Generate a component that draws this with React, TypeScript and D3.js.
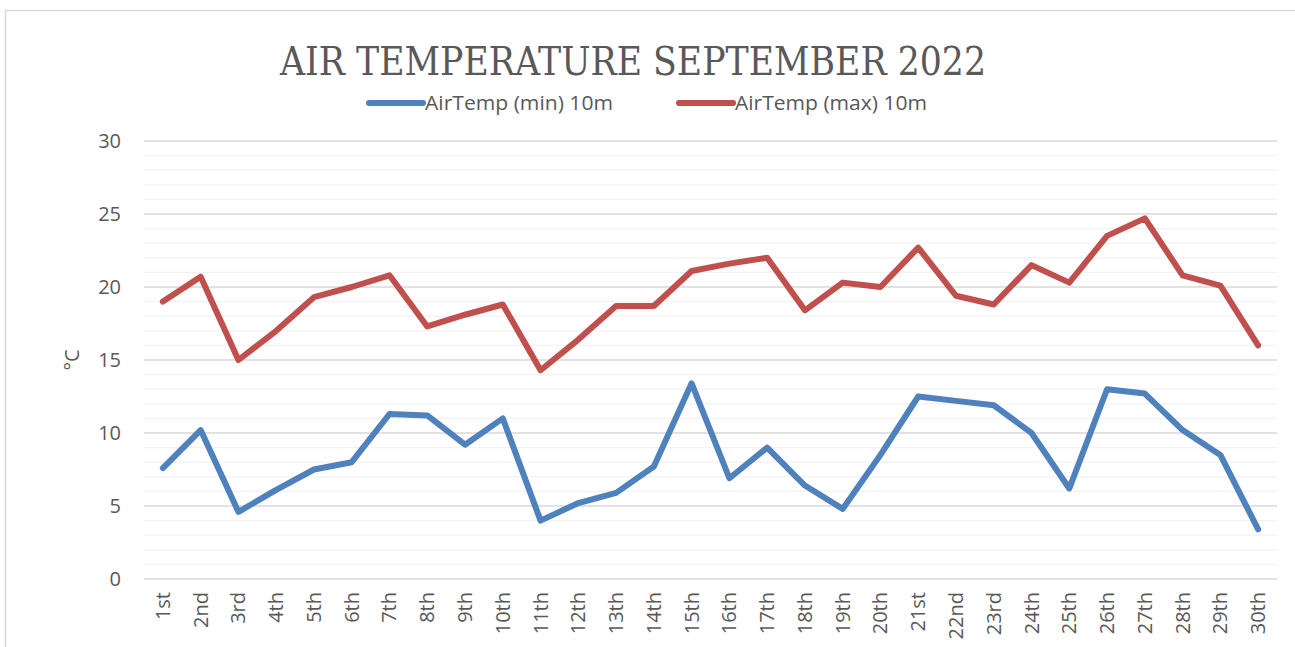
import * as d3 from 'd3'
import { useEffect, useRef } from 'react'

const days = [
  '1st', '2nd', '3rd', '4th', '5th', '6th', '7th', '8th', '9th', '10th',
  '11th', '12th', '13th', '14th', '15th', '16th', '17th', '18th', '19th', '20th',
  '21st', '22nd', '23rd', '24th', '25th', '26th', '27th', '28th', '29th', '30th',
]

const minTemp = [
  7.6, 10.2, 4.6, 6.1, 7.5, 8.0, 11.3, 11.2, 9.2, 11.0,
  4.0, 5.2, 5.9, 7.7, 13.4, 6.9, 9.0, 6.4, 4.8, 8.5,
  12.5, 12.2, 11.9, 10.0, 6.2, 13.0, 12.7, 10.2, 8.5, 3.4,
]

const maxTemp = [
  19.0, 20.7, 15.0, 17.0, 19.3, 20.0, 20.8, 17.3, 18.1, 18.8,
  14.3, 16.4, 18.7, 18.7, 21.1, 21.6, 22.0, 18.4, 20.3, 20.0,
  22.7, 19.4, 18.8, 21.5, 20.3, 23.5, 24.7, 20.8, 20.1, 16.0,
]

const series = [
  { name: 'AirTemp (min) 10m', values: minTemp, color: '#4f81bd' },
  { name: 'AirTemp (max) 10m', values: maxTemp, color: '#c0504d' },
]

const yTicks = [0, 5, 10, 15, 20, 25, 30]

const W = 1295
const H = 647
const LABEL_FONT = "'Open Sans', 'Noto Sans', sans-serif"
const TEXT_COLOR = '#595959'

export default function App() {
  const ref = useRef<SVGSVGElement | null>(null)

  useEffect(() => {
    const svgEl = ref.current
    if (!svgEl) return
    const svg = d3.select(svgEl)
    svg.selectAll('*').remove()

    const left = 144
    const right = 1277
    const top = 141
    const bottom = 579

    const x = d3.scaleBand<string>().domain(days).range([left, right])
    const y = d3.scaleLinear().domain([0, 30]).range([bottom, top])

    svg.append('rect').attr('width', W).attr('height', H).attr('fill', '#fff')

    // chart border, runs off the right and bottom edges
    svg
      .append('rect')
      .attr('x', 5.5)
      .attr('y', 10.5)
      .attr('width', W + 20)
      .attr('height', H + 20)
      .attr('fill', 'none')
      .attr('stroke', '#d9d9d9')
      .attr('stroke-width', 1.5)

    // gridlines: minor every 1, major every 5
    const grid = svg.append('g')
    d3.range(1, 31).forEach((v) => {
      if (v % 5 === 0) return
      grid
        .append('line')
        .attr('x1', left)
        .attr('x2', right)
        .attr('y1', y(v))
        .attr('y2', y(v))
        .attr('stroke', '#f2f2f2')
        .attr('stroke-width', 1.2)
    })
    yTicks.forEach((v) => {
      grid
        .append('line')
        .attr('x1', left)
        .attr('x2', right)
        .attr('y1', y(v))
        .attr('y2', y(v))
        .attr('stroke', '#d9d9d9')
        .attr('stroke-width', 1.3)
    })

    // y tick labels
    svg
      .append('g')
      .selectAll('text')
      .data(yTicks)
      .join('text')
      .attr('x', 121)
      .attr('y', (d) => y(d))
      .attr('dy', '0.35em')
      .attr('text-anchor', 'end')
      .attr('font-family', LABEL_FONT)
      .attr('font-size', 20)
      .attr('fill', TEXT_COLOR)
      .text((d) => d)

    // y axis title
    svg
      .append('text')
      .attr('transform', `translate(79, ${y(15)}) rotate(-90)`)
      .attr('text-anchor', 'middle')
      .attr('font-family', LABEL_FONT)
      .attr('font-size', 20)
      .attr('fill', TEXT_COLOR)
      .text('°C')

    // x tick labels
    svg
      .append('g')
      .selectAll('text')
      .data(days)
      .join('text')
      .attr('transform', (d) => `translate(${x(d)! + x.bandwidth() / 2}, 592) rotate(-90)`)
      .attr('dy', '0.35em')
      .attr('text-anchor', 'end')
      .attr('font-family', LABEL_FONT)
      .attr('font-size', 20)
      .attr('fill', TEXT_COLOR)
      .text((d) => d)

    // lines
    const line = d3
      .line<number>()
      .x((_, i) => x(days[i])! + x.bandwidth() / 2)
      .y((d) => y(d))

    series.forEach((s) => {
      svg
        .append('path')
        .attr('d', line(s.values))
        .attr('fill', 'none')
        .attr('stroke', s.color)
        .attr('stroke-width', 6)
        .attr('stroke-linejoin', 'round')
        .attr('stroke-linecap', 'round')
    })

    // title
    svg
      .append('text')
      .attr('x', 633)
      .attr('y', 75)
      .attr('text-anchor', 'middle')
      .attr('font-family', "'DejaVu Serif', 'Liberation Serif', serif")
      .attr('font-size', 40)
      .attr('fill', TEXT_COLOR)
      .attr('textLength', 706)
      .attr('lengthAdjust', 'spacingAndGlyphs')
      .text('AIR TEMPERATURE SEPTEMBER 2022')

    // legend
    const legendX = [369, 679]
    series.forEach((s, i) => {
      const g = svg.append('g').attr('transform', `translate(${legendX[i]}, 103)`)
      g.append('line')
        .attr('x1', 0)
        .attr('x2', 54)
        .attr('stroke', s.color)
        .attr('stroke-width', 6)
        .attr('stroke-linecap', 'round')
      g.append('text')
        .attr('x', 56)
        .attr('dy', '0.35em')
        .attr('font-family', LABEL_FONT)
        .attr('font-size', 20)
        .attr('fill', TEXT_COLOR)
        .attr('textLength', i === 0 ? 188 : 192)
        .attr('lengthAdjust', 'spacingAndGlyphs')
        .text(s.name)
    })
  }, [])

  return (
    <svg
      ref={ref}
      width={W}
      height={H}
      style={{ position: 'absolute', left: 0, top: 0, display: 'block' }}
    />
  )
}
